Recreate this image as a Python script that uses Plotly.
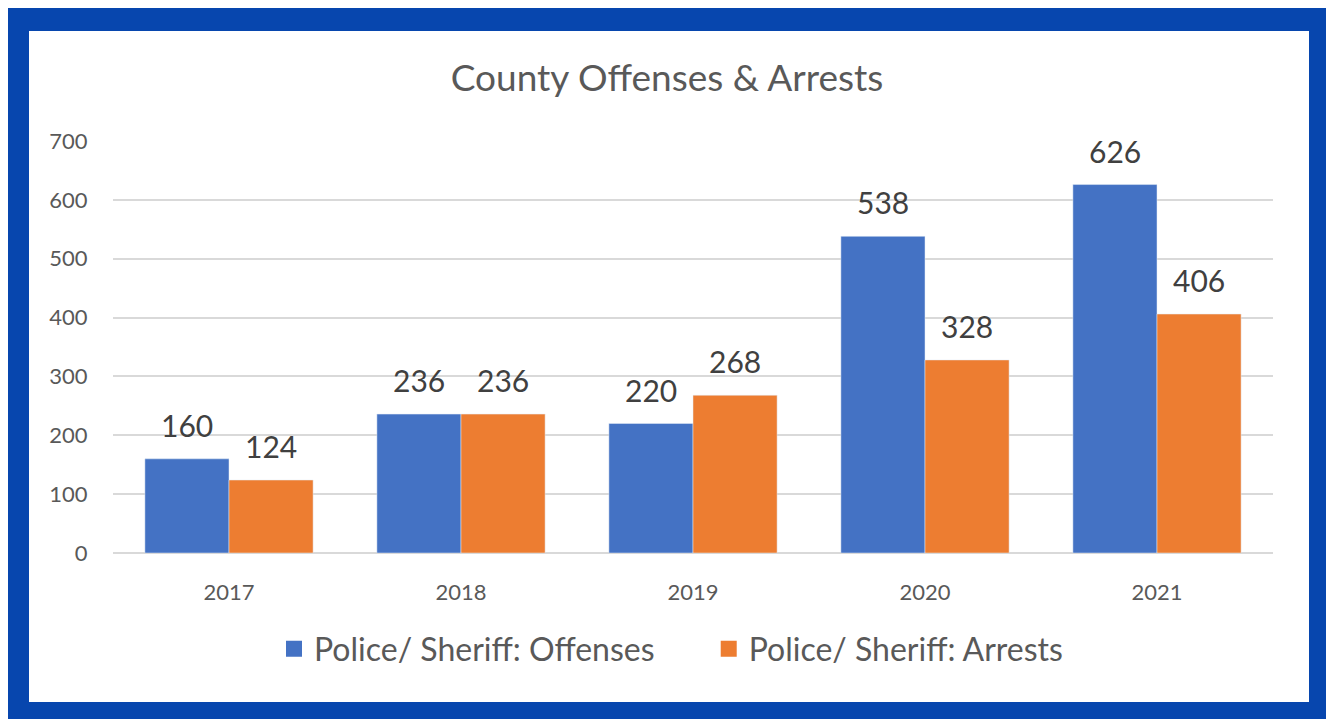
import plotly.graph_objects as go

years = ["2017", "2018", "2019", "2020", "2021"]
offenses = [160, 236, 220, 538, 626]
arrests = [124, 236, 268, 328, 406]
series_names = ["Police/ Sheriff: Offenses", "Police/ Sheriff: Arrests"]
colors = ["#4472C4", "#ED7D31"]
title_text = "County Offenses & Arrests"

# page is rendered with an 8px body margin: figure pixel = page pixel - 8
OFF = 8
W, H = 1334 - OFF, 719 - OFF
L, R, T, B = 113 - OFF, 61, 141 - OFF, 166
pw, ph = W - L - R, H - T - B

def px(x):
    return (x - OFF - L) / pw

def py(y):
    return (H - B - (y - OFF)) / ph

FONT = "Lato"
fig = go.Figure()
for vals, name, col, shift in [(offenses, series_names[0], colors[0], -42),
                               (arrests, series_names[1], colors[1], 42)]:
    fig.add_trace(go.Bar(x=years, y=vals, name=name, marker_color=col, showlegend=False))
    for i, yv in enumerate(vals):
        # category index i on the category axis
        fig.add_annotation(x=i, y=yv, text=str(yv), showarrow=False, xshift=shift, yshift=34,
                           yanchor="middle", xanchor="center",
                           font=dict(size=30, color="#404040", family=FONT))

pad = ["\u00a0" * 6, ""]
for name, col, p in zip(series_names, colors, pad):
    fig.add_trace(go.Scatter(x=[years[0]], y=[None], mode="markers", name=name + p,
                             marker=dict(symbol="square", size=17, color=col)))

fig.update_layout(
    width=W, height=H,
    margin=dict(l=L, r=R, t=T, b=B),
    paper_bgcolor="#f4f7fb", plot_bgcolor="rgba(0,0,0,0)",
    barmode="group", bargap=0.275, bargroupgap=0,
    font=dict(family=FONT, color="#595959"),
    title=dict(text=title_text, x=(667 - OFF) / W, xanchor="center", y=1 - (78 - OFF) / H,
               yanchor="middle", font=dict(size=37, color="#595959", family=FONT)),
    legend=dict(orientation="h", x=px(671), xanchor="center", y=py(649), yanchor="middle",
                font=dict(size=32, color="#595959", family=FONT), bgcolor="rgba(0,0,0,0)",
                traceorder="normal"),
    showlegend=True,
    shapes=[
        dict(type="rect", xref="paper", yref="paper", x0=px(5), x1=px(1329), y0=py(719), y1=py(5),
             fillcolor="#0746AE", line_width=0, layer="below"),
        dict(type="rect", xref="paper", yref="paper", x0=px(29), x1=px(1309), y0=py(702), y1=py(31),
             fillcolor="#ffffff", line_width=0, layer="below"),
    ],
)
fig.update_xaxes(type="category", categoryorder="array", categoryarray=years,
                 range=[-0.5, len(years) - 0.5],
                 showgrid=False, showline=False, ticks="outside", ticklen=20, tickcolor="rgba(0,0,0,0)",
                 tickfont=dict(size=22, color="#595959", family=FONT))
fig.update_yaxes(range=[0, 700], dtick=100, showgrid=True, gridcolor="#d9d9d9", gridwidth=1.5,
                 zeroline=True, zerolinecolor="#d9d9d9", zerolinewidth=1.5, showline=False,
                 ticks="outside", ticklen=20, tickcolor="rgba(0,0,0,0)",
                 tickfont=dict(size=22, color="#595959", family=FONT))

fig.write_html("out.html")
